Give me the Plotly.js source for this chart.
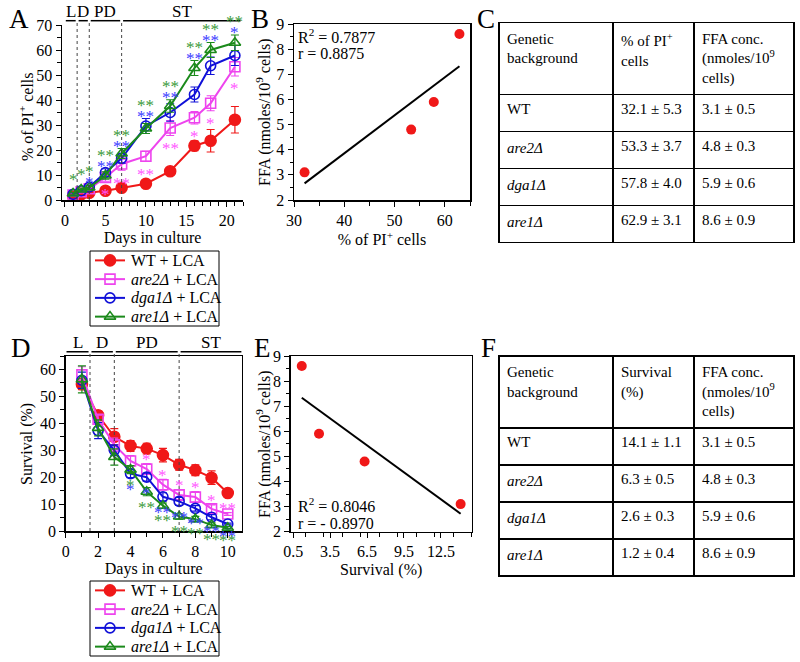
<!DOCTYPE html>
<html><head><meta charset="utf-8">
<script src="https://cdn.plot.ly/plotly-3.0.1.min.js"></script>
<style>body{margin:0;background:#fff}#chart{width:800px;height:662px}</style>
</head><body><div id="chart"></div>
<script>
// ---------- Panel A: % PI+ cells over days ----------
const daysA = [1, 2, 3, 5, 7, 10, 13, 16, 18, 21];
const piWT   = [1.7, 2.3, 2.9, 3.7, 4.9, 6.5, 11.5, 21.7, 23.7, 32.1];
const piAre2 = [2.0, 3.3, 4.5, 9.0, 14.4, 17.5, 28.8, 32.9, 38.7, 53.3];
const piDga1 = [2.3, 3.7, 5.2, 11.0, 16.7, 29.6, 35.0, 42.2, 53.7, 57.8];
const piAre1 = [2.6, 4.2, 5.0, 9.8, 18.6, 28.6, 37.6, 52.8, 60.0, 62.9];
const piErrWT   = [0.5, 0.5, 0.5, 0.8, 1.0, 0.8, 1.5, 2.0, 4.5, 5.3];
const piErrAre2 = [0.5, 0.5, 0.6, 1.5, 2.5, 2.0, 3.0, 2.5, 3.0, 3.7];
const piErrDga1 = [0.5, 0.5, 0.8, 1.5, 2.0, 3.0, 3.5, 3.0, 3.5, 4.0];
const piErrAre1 = [0.5, 0.6, 0.8, 1.5, 2.0, 2.0, 2.5, 3.0, 3.0, 3.1];
const starsAAre2 = ["", "", "", "*", "**", "**", "**", "*", "*", "*"];
const starsADga1 = ["", "", "*", "**", "**", "**", "**", "**", "**", "*"];
const starsAAre1 = ["*", "*", "*", "**", "**", "**", "**", "**", "**", "**"];

// ---------- Panel D: survival over days ----------
const daysD = [1, 2, 3, 4, 5, 6, 7, 8, 9, 10];
const svWT   = [54.5, 43.0, 35.0, 31.6, 30.6, 28.2, 24.6, 22.6, 19.8, 14.1];
const svAre2 = [58.0, 41.5, 32.0, 26.0, 23.0, 17.2, 13.4, 12.6, 8.2, 6.3];
const svDga1 = [56.0, 37.3, 30.0, 21.3, 20.0, 12.7, 11.0, 8.4, 5.1, 2.6];
const svAre1 = [56.3, 38.3, 27.5, 22.8, 14.6, 9.4, 5.4, 4.4, 2.2, 1.2];
const svErrWT   = [2.0, 1.5, 3.0, 2.0, 2.0, 2.5, 2.0, 2.0, 2.5, 1.1];
const svErrAre2 = [3.0, 1.5, 2.5, 2.0, 2.0, 2.0, 2.0, 2.0, 1.5, 0.5];
const svErrDga1 = [3.0, 3.0, 2.0, 1.5, 1.5, 1.5, 1.5, 1.0, 1.0, 0.3];
const svErrAre1 = [5.0, 3.0, 3.0, 1.5, 1.5, 1.0, 1.0, 1.0, 0.8, 0.4];
const starsDAre2 = ["", "", "", "", "*", "*", "*", "*", "*", "**"];
const starsDDga1 = ["", "", "", "*", "*", "**", "**", "**", "**", "**"];
const starsDAre1 = ["", "", "", "*", "**", "**", "**", "**", "**", "**"];

// ---------- Tables / correlations ----------
const genotypes = ["WT", "<i>are2Δ</i>", "<i>dga1Δ</i>", "<i>are1Δ</i>"];
const piMean = [32.1, 53.3, 57.8, 62.9];
const piSd   = [5.3, 3.7, 4.0, 3.1];
const svMean = [14.1, 6.3, 2.6, 1.2];
const svSd   = [1.1, 0.5, 0.3, 0.4];
const ffaMean = [3.1, 4.8, 5.9, 8.6];
const ffaSd   = [0.5, 0.3, 0.6, 0.9];

const seriesNames = ["WT + LCA", "<i>are2Δ</i> + LCA", "<i>dga1Δ</i> + LCA", "<i>are1Δ</i> + LCA"];
const phaseNames = ["L", "D", "PD", "ST"];
const phaseEdgesA = [0.1, 1.5, 3, 7, 21.7];
const phaseEdgesD = [0.05, 1.5, 3, 7, 10.85];

// ---------- helpers ----------
const W = 800, H = 662;
const px = v => v / W;
const py = v => 1 - v / H;
const FONT = "Liberation Serif";
const colors = ["#f01818", "#ee44ee", "#1010d8", "#1b8a1b"];
const starColors = ["#f01818", "#ff55ff", "#3a3aff", "#3a9a3a"];
const symbols = ["circle", "square-open", "circle-open", "triangle-up-open"];

function seriesTrace(x, y, err, i, xa, ya) {
  return {
    type: "scatter", mode: "lines+markers", x: x, y: y, name: seriesNames[i],
    xaxis: xa, yaxis: ya, showlegend: false,
    line: {color: colors[i], width: 2},
    marker: {symbol: symbols[i], size: i === 0 ? 11 : 10, color: colors[i],
             line: {color: colors[i], width: 1.6}},
    error_y: {type: "data", array: err, visible: true, color: colors[i], thickness: 1.2, width: 4}
  };
}

function linfit(x, y) {
  const n = x.length;
  const mx = x.reduce((a, b) => a + b, 0) / n;
  const my = y.reduce((a, b) => a + b, 0) / n;
  let sxy = 0, sxx = 0;
  for (let i = 0; i < n; i++) { sxy += (x[i] - mx) * (y[i] - my); sxx += (x[i] - mx) ** 2; }
  const b = sxy / sxx;
  return {a: my - b * mx, b: b};
}

const traces = [];
[piWT, piAre2, piDga1, piAre1].forEach((s, i) =>
  traces.push(seriesTrace(daysA, s, [piErrWT, piErrAre2, piErrDga1, piErrAre1][i], i, "x", "y")));
[svWT, svAre2, svDga1, svAre1].forEach((s, i) =>
  traces.push(seriesTrace(daysD, s, [svErrWT, svErrAre2, svErrDga1, svErrAre1][i], i, "x3", "y3")));

const fitB = linfit(piMean, ffaMean);
const bx = [Math.min(...piMean), Math.max(...piMean)];
traces.push({type: "scatter", mode: "markers", x: piMean, y: ffaMean, xaxis: "x2", yaxis: "y2",
  showlegend: false, marker: {color: "#f01818", size: 10}});
traces.push({type: "scatter", mode: "lines", x: bx, y: bx.map(v => fitB.a + fitB.b * v),
  xaxis: "x2", yaxis: "y2", showlegend: false, line: {color: "black", width: 2}});
const fitE = linfit(svMean, ffaMean);
const ex = [Math.min(...svMean), Math.max(...svMean)];
traces.push({type: "scatter", mode: "markers", x: svMean, y: ffaMean, xaxis: "x4", yaxis: "y4",
  showlegend: false, marker: {color: "#f01818", size: 10}});
traces.push({type: "scatter", mode: "lines", x: ex, y: ex.map(v => fitE.a + fitE.b * v),
  xaxis: "x4", yaxis: "y4", showlegend: false, line: {color: "black", width: 2}});

const ann = [];
const shapes = [];
function legendBox(xa, ya) {
  seriesNames.forEach((nm, i) => {
    traces.push({type: "scatter", mode: "lines", x: [5, 35], y: [i, i], xaxis: xa, yaxis: ya,
      showlegend: false, line: {color: colors[i], width: 2}, hoverinfo: "skip"});
    traces.push({type: "scatter", mode: "markers", x: [20], y: [i], xaxis: xa, yaxis: ya,
      showlegend: false, hoverinfo: "skip",
      marker: {symbol: symbols[i], size: i === 0 ? 11 : 10, color: colors[i], line: {color: colors[i], width: 1.6}}});
    ann.push({text: nm, x: 39, y: i, xref: xa, yref: ya, showarrow: false, xanchor: "left", yanchor: "middle",
      font: {family: FONT, size: 16, color: "black"}});
  });
}
legendBox("x5", "y5");
legendBox("x6", "y6");
shapes.push({type: "rect", xref: "paper", yref: "paper", x0: px(90), x1: px(219), y0: py(326), y1: py(251),
  line: {color: "black", width: 1}});
shapes.push({type: "rect", xref: "paper", yref: "paper", x0: px(90), x1: px(219), y0: py(656), y1: py(581),
  line: {color: "black", width: 1}});

const pm = (m, s) => m.map((v, i) => v.toFixed(1) + "\u00a0±\u00a0" + s[i].toFixed(1));
function tableTrace(hdr2, col2, top, hdrH) {
  return {
    type: "table",
    domain: {x: [px(499), px(794)], y: [py(top + 280), py(top)]},
    columnwidth: [114, 81, 100],
    header: {values: [["Genetic<br>background"], [hdr2], ["FFA conc.<br>(nmoles/10<sup>9</sup><br>cells)"]],
      align: "left", height: hdrH, line: {color: "black", width: 1.5}, fill: {color: "white"},
      font: {family: FONT, size: 15, color: "black"}},
    cells: {values: [genotypes, col2, pm(ffaMean, ffaSd)],
      align: "left", height: 37, line: {color: "black", width: 1.5}, fill: {color: "white"},
      font: {family: FONT, size: 15, color: "black"}}
  };
}
traces.push(tableTrace("% of PI<sup>+</sup><br>cells", pm(piMean, piSd), 22.7, 65.6));
traces.push(tableTrace("Survival<br>(%)", pm(svMean, svSd), 356, 63.3));

const lab = (t, x, y) => ann.push({text: t, x: px(x), y: py(y), xref: "paper", yref: "paper",
  showarrow: false, xanchor: "center", yanchor: "middle", font: {family: FONT, size: 27, color: "black"}});
lab("A", 19, 19); lab("B", 260, 19); lab("C", 486, 19);
lab("D", 21, 348); lab("E", 262, 348); lab("F", 488, 348);

const txt = (t, x, y) => ann.push({text: t, x: px(x), y: py(y), xref: "paper", yref: "paper",
  showarrow: false, xanchor: "left", yanchor: "middle", font: {family: FONT, size: 16, color: "black"}});
txt("R<sup>2</sup> = 0.7877", 296, 36);
txt("r = 0.8875", 296, 54);
txt("R<sup>2</sup> = 0.8046", 296, 505);
txt("r = - 0.8970", 296, 523);

// rotated y-axis titles
const ytitle = (t, x, y) => ann.push({text: t, x: px(x), y: py(y), xref: "paper", yref: "paper",
  showarrow: false, textangle: -90, xanchor: "center", yanchor: "middle",
  font: {family: FONT, size: 16, color: "black"}});
ytitle("% of PI<sup>+</sup> cells", 26, 117);
ytitle("FFA (nmoles/10<sup>9</sup> cells)", 263, 112);
ytitle("Survival (%)", 27, 444);
ytitle("FFA (nmoles/10<sup>9</sup> cells)", 263, 444);

function stars(x, base, arr, color, xa, ya, shift) {
  arr.forEach((s, i) => {
    if (!s) return;
    ann.push({text: s, x: x[i], y: base[i], xref: xa, yref: ya, showarrow: false,
      yshift: shift, xanchor: "center", yanchor: "middle",
      font: {family: FONT, size: 17, color: color}});
  });
}
const topA = daysA.map((_, i) => Math.max(piDga1[i] + piErrDga1[i], piAre1[i] + piErrAre1[i]));
stars(daysA, topA, starsADga1, starColors[2], "x", "y", 2);
stars(daysA, topA, starsAAre1, starColors[3], "x", "y", 13);
stars(daysA, piAre2.map((v, i) => v - piErrAre2[i]), starsAAre2, starColors[1], "x", "y", -13);
stars(daysD, svAre2.map((v, i) => v + svErrAre2[i]), starsDAre2, starColors[1], "x3", "y3", 4);
stars(daysD, svDga1.map((v, i) => v - svErrDga1[i]), starsDDga1, starColors[2], "x3", "y3", -12);
stars(daysD, svAre1.map((v, i) => v - svErrAre1[i]), starsDAre1, starColors[3], "x3", "y3", -12);

function phases(edges, xa, lineY, labelY, gap, bottomY) {
  for (let k = 0; k < phaseNames.length; k++) {
    const x0 = edges[k] + (k === 0 ? 0 : gap), x1 = edges[k + 1] - (k === phaseNames.length - 1 ? 0 : gap);
    shapes.push({type: "line", xref: xa, yref: "paper", x0: x0, x1: x1, y0: py(lineY), y1: py(lineY),
      line: {color: "black", width: 1.5}});
    ann.push({text: phaseNames[k], x: (x0 + x1) / 2, y: py(labelY), xref: xa, yref: "paper",
      showarrow: false, xanchor: "center", yanchor: "middle", font: {family: FONT, size: 17, color: "black"}});
    if (k > 0) shapes.push({type: "line", xref: xa, yref: "paper", x0: edges[k], x1: edges[k],
      y0: py(bottomY), y1: py(lineY), line: {color: "#444", width: 1, dash: "dot"}});
  }
}
phases(phaseEdgesA, "x", 20.7, 11, 0.18, 200);
phases(phaseEdgesD, "x3", 351.7, 342, 0.09, 531);

const tickF = {family: FONT, size: 16, color: "black"};
const titleF = {family: FONT, size: 16, color: "black"};
function ax(o) {
  return Object.assign({showgrid: false, zeroline: false, showline: true, linecolor: "black", linewidth: 1.5,
    ticks: "outside", ticklen: 5, tickwidth: 1, tickcolor: "black", tickfont: tickF, fixedrange: true,
    automargin: false}, o);
}
const hidden = o => Object.assign({visible: false, showgrid: false, zeroline: false, fixedrange: true}, o);

const layout = {
  width: W, height: H, margin: {l: 0, r: 0, t: 0, b: 0, autoexpand: false},
  paper_bgcolor: "white", plot_bgcolor: "rgba(0,0,0,0)", font: {family: FONT, color: "black"},
  showlegend: false,
  xaxis: ax({domain: [px(62), px(243)], range: [-0.37, 22], anchor: "y", dtick: 5, tick0: 0,
    minor: {dtick: 1, ticks: "outside", ticklen: 4, tickcolor: "black"},
    title: {text: "Days in culture", font: titleF, standoff: 4}}),
  yaxis: ax({domain: [py(200), py(25)], range: [0, 70], anchor: "x", dtick: 10,
    minor: {dtick: 5, ticks: "outside", ticklen: 4, tickcolor: "black"}}),
  xaxis2: ax({domain: [px(294), px(470)], range: [30, 65], anchor: "y2", dtick: 10, tick0: 30, mirror: true,
    minor: {dtick: 5, ticks: "outside", ticklen: 4, tickcolor: "black"},
    title: {text: "% of PI<sup>+</sup> cells", font: titleF, standoff: 4}}),
  yaxis2: ax({domain: [py(200), py(24)], range: [2, 9], anchor: "x2", dtick: 1, mirror: true,
    minor: {dtick: 0.5, ticks: "outside", ticklen: 3, tickcolor: "black"}}),
  xaxis3: ax({domain: [px(65.7), px(241.7)], range: [0, 10.86], anchor: "y3", dtick: 2, mirror: true,
    minor: {dtick: 1, ticks: "outside", ticklen: 4, tickcolor: "black"},
    title: {text: "Days in culture", font: titleF, standoff: 4}}),
  yaxis3: ax({domain: [py(531), py(356)], range: [0, 65], anchor: "x3", dtick: 10, mirror: true,
    minor: {dtick: 5, ticks: "outside", ticklen: 4, tickcolor: "black"}}),
  xaxis4: ax({domain: [px(290.7), px(471.7)], range: [0.3, 15], anchor: "y4", dtick: 3, tick0: 0.5, mirror: true,
    tickformat: ".1f",
    minor: {dtick: 1.5, ticks: "outside", ticklen: 4, tickcolor: "black"},
    title: {text: "Survival (%)", font: titleF, standoff: 4}}),
  yaxis4: ax({domain: [py(531.7), py(356)], range: [2, 9], anchor: "x4", dtick: 1, mirror: true,
    minor: {dtick: 0.5, ticks: "outside", ticklen: 3, tickcolor: "black"}}),
  xaxis5: hidden({domain: [px(90), px(219)], range: [0, 129], anchor: "y5"}),
  yaxis5: hidden({domain: [py(326), py(251)], range: [3.5, -0.5], anchor: "x5"}),
  xaxis6: hidden({domain: [px(90), px(219)], range: [0, 129], anchor: "y6"}),
  yaxis6: hidden({domain: [py(656), py(581)], range: [3.5, -0.5], anchor: "x6"}),
  annotations: ann, shapes: shapes
};

Plotly.newPlot("chart", traces, layout, {displayModeBar: false, staticPlot: true});
</script>
</body></html>
